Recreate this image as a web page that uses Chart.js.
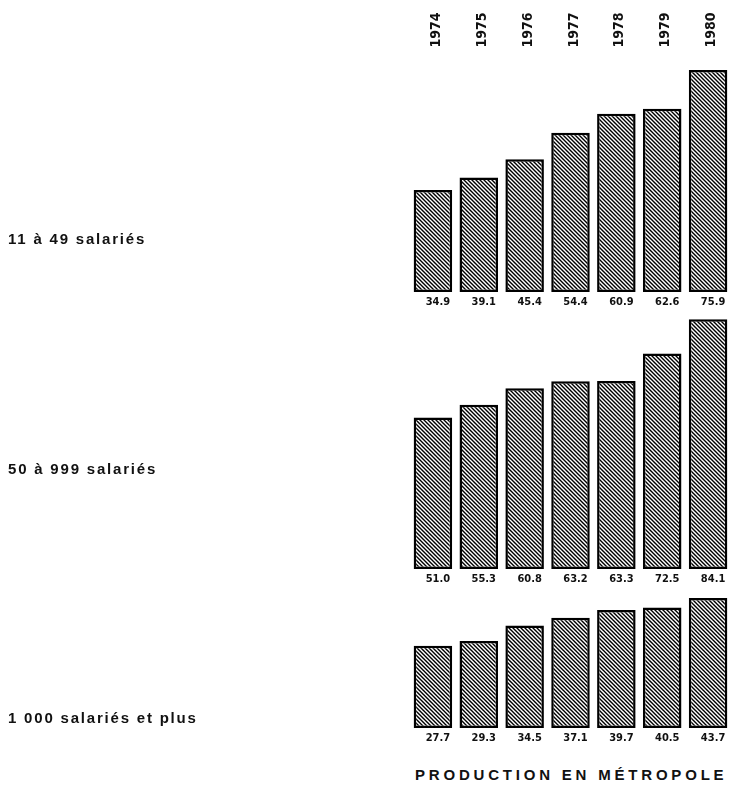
<!DOCTYPE html>
<html>
<head>
<meta charset="utf-8">
<script src="https://cdn.jsdelivr.net/npm/chart.js@4/dist/chart.umd.min.js"></script>
<style>
  html, body { margin: 0; padding: 0; background: #fff; }
  body { width: 732px; height: 787px; position: relative; overflow: hidden; }
  canvas { position: absolute; left: 0; }
  .grp { position: absolute; left: 8px; font-family: "Liberation Sans", Arial, sans-serif; font-weight: bold; font-size: 15px; line-height: 15px; letter-spacing: 1.8px; color: #111; white-space: nowrap; }
  .title { position: absolute; left: 415px; top: 767px; font-family: "Liberation Sans", Arial, sans-serif; font-weight: bold; font-size: 15px; line-height: 15px; letter-spacing: 3.8px; color: #111; white-space: nowrap; }
</style>
</head>
<body>
<canvas id="c1" width="732" height="312" style="top:0px"></canvas>
<canvas id="c2" width="732" height="290" style="top:300px"></canvas>
<canvas id="c3" width="732" height="175" style="top:575px"></canvas>
<div class="grp" id="g1" style="top:231px"></div>
<div class="grp" id="g2" style="top:461px"></div>
<div class="grp" id="g3" style="top:710px"></div>
<div class="title" id="title"></div>
<script>
// ---- data ----
const years = ['1974', '1975', '1976', '1977', '1978', '1979', '1980'];
const small = [34.9, 39.1, 45.4, 54.4, 60.9, 62.6, 75.9];   // 11 à 49 salariés
const medium = [51.0, 55.3, 60.8, 63.2, 63.3, 72.5, 84.1];  // 50 à 999 salariés
const large = [27.7, 29.3, 34.5, 37.1, 39.7, 40.5, 43.7];   // 1 000 salariés et plus
const groupLabels = ['11 à 49 salariés', '50 à 999 salariés', '1 000 salariés et plus'];
const chartTitle = 'PRODUCTION EN MÉTROPOLE';

document.getElementById('g1').textContent = groupLabels[0];
document.getElementById('g2').textContent = groupLabels[1];
document.getElementById('g3').textContent = groupLabels[2];
document.getElementById('title').textContent = chartTitle;

function hatch() {
  const c = document.createElement('canvas');
  c.width = 4; c.height = 4;
  const x = c.getContext('2d');
  x.fillStyle = '#fff'; x.fillRect(0, 0, 4, 4);
  x.strokeStyle = '#000'; x.lineWidth = 1.4;
  x.beginPath();
  x.moveTo(-1, -1); x.lineTo(5, 5);
  x.moveTo(-1, 3); x.lineTo(1, 5);
  x.moveTo(3, -1); x.lineTo(5, 1);
  x.stroke();
  return x.createPattern(c, 'repeat');
}

const valueLabels = {
  id: 'valueLabels',
  afterDatasetsDraw(chart) {
    const ctx = chart.ctx;
    const vals = chart.data.datasets[0].data;
    const meta = chart.getDatasetMeta(0);
    ctx.save();
    ctx.fillStyle = '#111';
    ctx.font = 'bold 11px "Liberation Sans Narrow", "DejaVu Sans Condensed", "Liberation Sans", sans-serif';
    ctx.textAlign = 'center';
    ctx.textBaseline = 'middle';
    meta.data.forEach((bar, i) => {
      ctx.fillText(vals[i].toFixed(1), bar.x + 5, chart.chartArea.bottom + 10);
    });
    ctx.restore();
  }
};

const yearLabels = {
  id: 'yearLabels',
  afterDatasetsDraw(chart) {
    if (!chart.options.plugins.yearLabels || !chart.options.plugins.yearLabels.show) return;
    const ctx = chart.ctx;
    const meta = chart.getDatasetMeta(0);
    ctx.save();
    ctx.fillStyle = '#111';
    ctx.font = 'bold 14px "Liberation Sans Narrow", "DejaVu Sans Condensed", "Liberation Sans", sans-serif';
    ctx.textAlign = 'center';
    ctx.textBaseline = 'middle';
    meta.data.forEach((bar, i) => {
      ctx.save();
      ctx.translate(bar.x + 3.5, 30);
      ctx.rotate(-Math.PI / 2);
      ctx.fillText(chart.data.labels[i], 0, 0);
      ctx.restore();
    });
    ctx.restore();
  }
};

function makeChart(id, values, yMax, padTop, padBottom, showYears) {
  return new Chart(document.getElementById(id), {
    type: 'bar',
    data: {
      labels: years,
      datasets: [{
        data: values,
        backgroundColor: hatch(),
        borderColor: '#000',
        borderWidth: 2.5,
        borderSkipped: false,
        barPercentage: 0.84,
        categoryPercentage: 1.0
      }]
    },
    options: {
      responsive: false,
      animation: false,
      devicePixelRatio: 1,
      layout: { padding: { left: 410, right: 1, top: padTop, bottom: padBottom } },
      scales: {
        x: { display: false },
        y: { display: false, min: 0, max: yMax }
      },
      plugins: {
        legend: { display: false },
        tooltip: { enabled: false },
        yearLabels: { show: showYears }
      }
    },
    plugins: [valueLabels, yearLabels]
  });
}

makeChart('c1', small, 78.6, 62, 20, true);
makeChart('c2', medium, 86.5, 12, 21, false);
makeChart('c3', large, 48.1, 10, 22, false);
</script>
</body>
</html>
